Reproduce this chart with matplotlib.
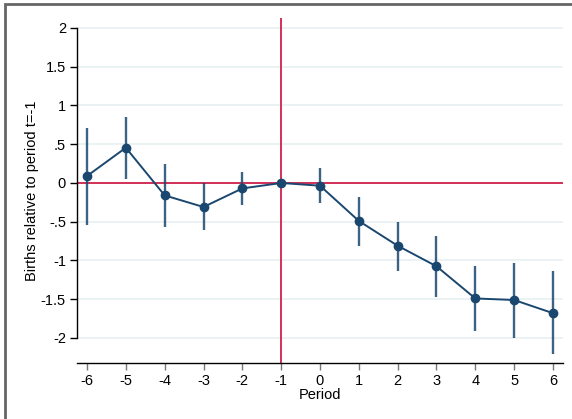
import matplotlib
matplotlib.use("Agg")
from matplotlib import pyplot as plt
from matplotlib.patches import Rectangle

# event-study estimates
periods = [-6, -5, -4, -3, -2, -1, 0, 1, 2, 3, 4, 5, 6]
coef = [0.09, 0.455, -0.16, -0.31, -0.07, 0.0, -0.035, -0.49, -0.81, -1.075, -1.49, -1.51, -1.68]
ci_low = [-0.54, 0.05, -0.57, -0.61, -0.29, 0.0, -0.26, -0.81, -1.13, -1.475, -1.91, -2.0, -2.21]
ci_high = [0.71, 0.855, 0.25, 0.0, 0.146, 0.0, 0.19, -0.18, -0.50, -0.68, -1.07, -1.03, -1.135]

yticks = [2, 1.5, 1, 0.5, 0, -0.5, -1, -1.5, -2]
ytick_labels = ["2", "1.5", "1", ".5", "0", "-.5", "-1", "-1.5", "-2"]

navy = "#1a476f"
red = "#d0204a"

plt.rcParams["font.family"] = ["Liberation Sans", "DejaVu Sans"]

W, H = 572, 419
fig = plt.figure(figsize=(W / 100, H / 100), dpi=100)

# axes box in pixels: left 77, right 563, top 18, bottom 363
ax = fig.add_axes([77 / W, 1 - 363 / H, (563 - 77) / W, (363 - 18) / H])
ax.set_xlim(-6.258, 6.258)
ax.set_ylim(-2.323, 2.129)

for y in yticks:
    ax.axhline(y, color="#e8f0f2", lw=1.2, zorder=0)

ax.axhline(0, color=red, lw=1.3, zorder=1)
ax.axvline(-1, color=red, lw=1.3, zorder=1)

# confidence intervals
ax.vlines(periods, ci_low, ci_high, color=navy, lw=1.7, alpha=0.85, zorder=2)
ax.plot(periods, coef, color=navy, lw=1.4, marker="o", markersize=6, zorder=3)

ax.spines["top"].set_visible(False)
ax.spines["right"].set_visible(False)
ax.spines["left"].set_bounds(-2, 2)
ax.spines["left"].set_linewidth(1.0)
ax.spines["bottom"].set_linewidth(1.0)

ax.set_yticks(yticks)
ax.set_yticklabels(ytick_labels)
ax.set_xticks(periods)
ax.set_xticklabels([str(p) for p in periods])
ax.tick_params(axis="both", direction="out", length=5, width=1, labelsize=10.5, pad=3)
ax.tick_params(axis="x", colors="#777777", labelcolor="black")

ax.set_xlabel("Period", fontsize=10.5, labelpad=0)
ax.set_ylabel("Births relative to period t=-1", fontsize=10.5, labelpad=1)

# outer frame (top and left edges visible)
fig.patches.append(Rectangle((4.5 / W, -0.1), 1.2, (H - 4.5) / H + 0.1, transform=fig.transFigure,
                             fill=False, edgecolor="#666666", lw=2))

fig.savefig("out.png", dpi=100)
